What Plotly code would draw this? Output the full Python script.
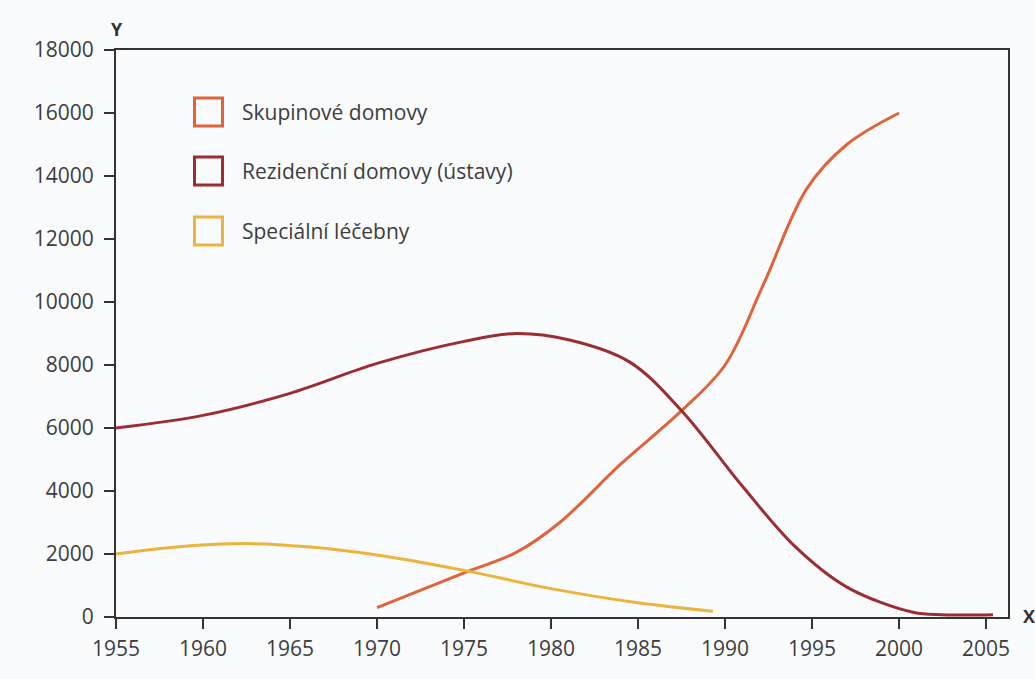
import plotly.graph_objects as go

# ---- data ----
skup_years = [1970, 1975, 1978, 1980.5, 1984, 1987.5, 1990, 1992.2, 1994.7, 1997, 2000]
skup_vals = [300, 1400, 2050, 3000, 4850, 6550, 8000, 10550, 13600, 15000, 16000]

rez_years = [1955, 1960, 1965, 1970, 1975, 1978, 1981, 1984.5, 1987.5, 1991, 1994, 1997,
             2000.8, 2002.5, 2005.4]
rez_vals = [6000, 6400, 7100, 8050, 8750, 9000, 8800, 8100, 6550, 4150, 2250, 950,
            150, 70, 70]

spec_years = [1955, 1958, 1962.5, 1966, 1970, 1975, 1980, 1985, 1989.3]
spec_vals = [2000, 2200, 2330, 2230, 1970, 1480, 900, 450, 180]

series_names = ["Skupinové domovy", "Rezidenční domovy (ústavy)", "Speciální léčebny"]
series_colors = ["#E0633C", "#9C2D33", "#EBB43E"]

x_ticks = [1955, 1960, 1965, 1970, 1975, 1980, 1985, 1990, 1995, 2000, 2005]
y_ticks = [0, 2000, 4000, 6000, 8000, 10000, 12000, 14000, 16000, 18000]

FONT = "Open Sans"
TXT = "#3d3d3d"

fig = go.Figure()
for yrs, vals, name, col in zip([skup_years, rez_years, spec_years],
                                [skup_vals, rez_vals, spec_vals],
                                series_names, series_colors):
    fig.add_trace(go.Scatter(x=yrs, y=vals, mode="lines", name=name,
                             line=dict(color=col, width=3, shape="spline", smoothing=1.0),
                             showlegend=False, hoverinfo="x+y+name"))

# plot-area geometry in pixels (for legend placement)
L, R, T, B = 116, 1008, 50, 617
W, H = 1035, 679
def px(x):
    return (x - L) / (R - L)
def py(y):
    return (B - y) / (B - T)

shapes = []
annotations = []
centers = [112, 171, 231]
for name, col, cy in zip(series_names, series_colors, centers):
    shapes.append(dict(type="rect", xref="paper", yref="paper",
                       x0=px(194.5), x1=px(222.5), y0=py(cy + 14), y1=py(cy - 14),
                       line=dict(color=col, width=3), fillcolor="rgba(0,0,0,0)"))
    annotations.append(dict(xref="paper", yref="paper", x=px(240), y=py(cy),
                            text=name, showarrow=False, xanchor="left", yanchor="middle",
                            font=dict(family=FONT, size=21, color=TXT)))

annotations.append(dict(xref="paper", yref="paper", x=px(117), y=py(29), text="<b>Y</b>",
                        showarrow=False, xanchor="center", yanchor="middle",
                        font=dict(family=FONT, size=18, color="#333")))
annotations.append(dict(xref="paper", yref="paper", x=px(1021), y=py(616), text="<b>X</b>",
                        showarrow=False, xanchor="left", yanchor="middle",
                        font=dict(family=FONT, size=18, color="#333")))

fig.update_layout(
    width=W, height=H,
    margin=dict(l=L, r=W - R, t=T, b=H - B),
    paper_bgcolor="#FAFBFC", plot_bgcolor="#FAFBFC",
    shapes=shapes, annotations=annotations,
    showlegend=False,
    font=dict(family=FONT, color=TXT),
)
fig.update_xaxes(range=[1955, 2006.26], tickvals=x_ticks, ticktext=[str(v) for v in x_ticks],
                 showgrid=False, zeroline=False, showline=True, mirror=True,
                 linecolor="#333", linewidth=2, ticks="outside", ticklen=10, tickwidth=2,
                 tickcolor="#333", tickfont=dict(family=FONT, size=21, color=TXT),
                 ticklabelstandoff=2)
fig.update_yaxes(range=[0, 18000], tickvals=y_ticks, ticktext=[str(v) for v in y_ticks],
                 showgrid=False, zeroline=False, showline=True, mirror=True,
                 linecolor="#333", linewidth=2, ticks="outside", ticklen=10, tickwidth=2,
                 tickcolor="#333", tickfont=dict(family=FONT, size=21, color=TXT),
                 ticklabelstandoff=6)

fig.write_html("out.html")
